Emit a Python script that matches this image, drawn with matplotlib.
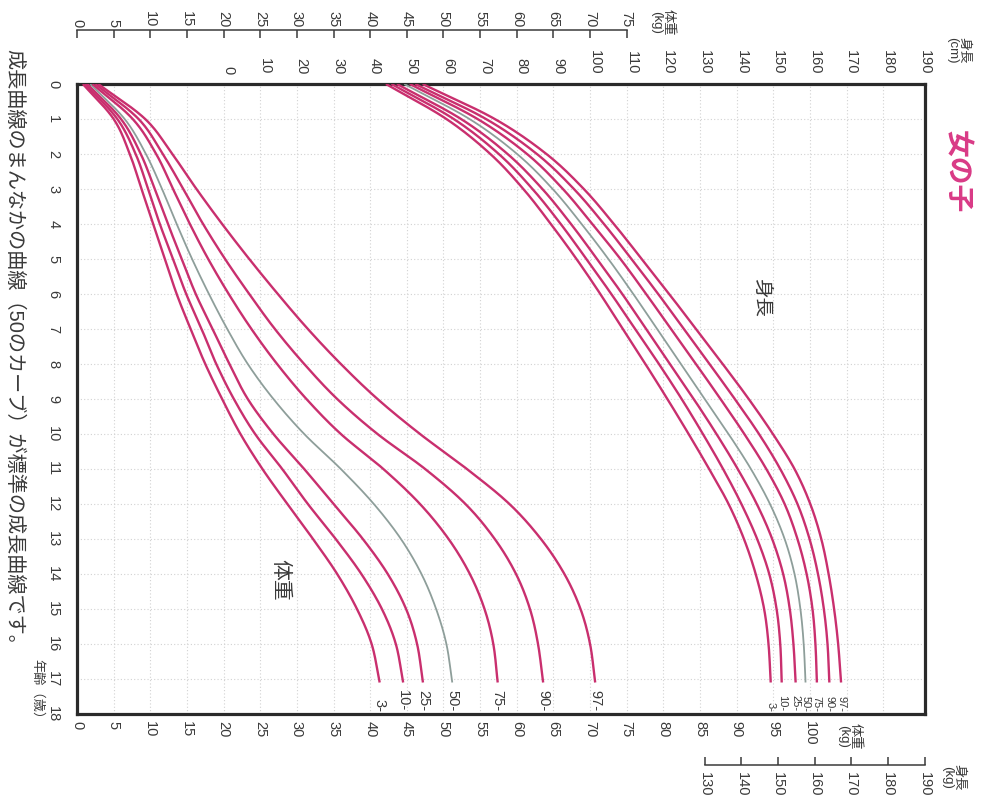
import numpy as np
import matplotlib
matplotlib.use("Agg")
import matplotlib.pyplot as plt

plt.rcParams['font.family'] = ['Liberation Sans', 'Noto Sans CJK JP']

# ages (years) at which the curves were read
ages = [0, 1, 2, 3, 4, 5, 6, 7, 8, 9, 10, 11, 12, 13, 14, 15, 16, 17.1]
pct = ["3", "10", "25", "50", "75", "90", "97"]

# height (cm), one list per percentile
h3 = [43.0, 59.5, 71.5, 80.5, 88.0, 95.0, 101.5, 107.6, 113.8, 119.8, 125.6, 131.2, 136.5, 140.7, 143.9, 146.2, 147.4, 148.0]
h10 = [44.5, 61.5, 73.8, 83.0, 90.7, 97.7, 104.5, 111.0, 117.5, 123.7, 129.5, 135.0, 140.0, 144.3, 147.6, 149.6, 150.6, 151.0]
h25 = [46.0, 63.5, 76.2, 85.7, 93.5, 100.6, 107.5, 114.0, 120.5, 127.0, 133.2, 139.0, 144.2, 148.4, 151.4, 153.2, 154.2, 154.8]
h50 = [48.0, 65.8, 78.8, 88.5, 96.4, 103.7, 110.5, 117.0, 123.5, 130.0, 136.5, 142.6, 147.8, 151.8, 154.5, 156.1, 157.0, 157.5]
h75 = [49.5, 68.0, 81.5, 91.3, 99.3, 107.0, 114.0, 120.8, 127.6, 134.3, 140.8, 146.8, 151.8, 155.3, 157.8, 159.4, 160.2, 160.6]
h90 = [51.0, 70.3, 84.2, 94.3, 102.5, 110.0, 117.3, 124.3, 131.3, 138.2, 144.8, 150.6, 155.3, 158.6, 160.9, 162.5, 163.5, 164.0]
h97 = [53.0, 72.7, 86.8, 97.0, 105.2, 112.8, 120.3, 127.6, 134.9, 142.0, 148.6, 154.5, 158.8, 161.8, 163.8, 165.3, 166.4, 167.2]

# weight (kg)
w3 = [0.8, 5.0, 7.2, 8.8, 10.4, 12.0, 13.6, 15.5, 17.5, 19.8, 22.3, 25.3, 28.7, 32.2, 35.5, 38.2, 40.2, 41.3]
w10 = [1.1, 5.5, 8.0, 9.7, 11.3, 13.1, 14.9, 17.0, 19.0, 21.4, 24.3, 28.0, 31.5, 35.3, 38.8, 41.6, 43.5, 44.5]
w25 = [1.4, 6.0, 8.7, 10.6, 12.4, 14.3, 16.2, 18.5, 20.8, 23.3, 26.8, 31.0, 35.0, 39.0, 42.4, 44.9, 46.4, 47.2]
w50 = [1.8, 6.5, 9.4, 11.6, 13.6, 15.7, 18.0, 20.5, 23.3, 26.8, 31.0, 36.0, 40.5, 44.2, 47.0, 49.0, 50.4, 51.2]
w75 = [2.1, 7.6, 10.8, 13.1, 15.4, 17.9, 20.7, 23.8, 27.3, 31.3, 36.0, 41.8, 46.8, 50.7, 53.6, 55.6, 56.8, 57.4]
w90 = [2.5, 8.4, 11.7, 14.5, 17.2, 20.2, 23.5, 27.0, 31.0, 35.5, 41.0, 47.5, 53.0, 57.0, 59.9, 61.8, 62.9, 63.6]
w97 = [2.9, 9.3, 13.0, 16.3, 19.8, 23.5, 27.4, 31.5, 36.0, 41.0, 46.8, 53.2, 59.0, 63.3, 66.5, 68.7, 70.0, 70.7]

heights = [h3, h10, h25, h50, h75, h90, h97]
weights = [w3, w10, w25, w50, w75, w90, w97]

weight_ticks_top = list(range(0, 80, 5))
weight_ticks_bottom = list(range(0, 105, 5))
height_ticks_top = list(range(0, 200, 10))
height_ticks_bottom = list(range(130, 200, 10))
age_ticks = list(range(0, 19))

PINK = '#c92f6e'
GREY = '#8e9e9a'
FRAME = '#2a2a2a'
TXT = '#3a3a3a'

W, H = 982, 809
PT = 72 / 100  # points per pixel at dpi 100


def fx(px):
    return px / W


def fy(py):
    return 1 - py / H


def smooth(xs, ys, n=24):
    xs = np.asarray(xs, float)
    ys = np.asarray(ys, float)
    out_x, out_y = [], []
    last = len(xs) - 1
    for i in range(last):
        i0, i3 = max(i - 1, 0), min(i + 2, last)
        t = np.linspace(0, 1, n, endpoint=False)
        for arr, out in ((xs, out_x), (ys, out_y)):
            p0, p1, p2, p3 = arr[i0], arr[i], arr[i + 1], arr[i3]
            if i == 0:
                p0 = 2 * p1 - p2
            if i + 1 == last:
                p3 = 2 * p2 - p1
            out.extend(0.5 * (2 * p1 + (-p0 + p2) * t + (2 * p0 - 5 * p1 + 4 * p2 - p3) * t ** 2
                              + (-p0 + 3 * p1 - 3 * p2 + p3) * t ** 3))
    out_x.append(xs[-1])
    out_y.append(ys[-1])
    return np.array(out_x), np.array(out_y)


fig = plt.figure(figsize=(9.82, 8.09), dpi=100)
fig.patch.set_facecolor('white')

# main frame: x = weight (kg), y = age, picture turned a quarter clockwise
ax = fig.add_axes([fx(77), fy(714), fx(925) - fx(77), fy(84) - fy(714)])
wmax = 115.7
hmin = -41.3
ax.set_xlim(0, wmax)
ax.set_ylim(18, 0)
for s in ax.spines.values():
    s.set_linewidth(2.3)
    s.set_color(FRAME)
    s.set_zorder(5)
ax.set_xticks(weight_ticks_bottom)
ax.set_xticklabels([str(v) for v in weight_ticks_bottom])
ax.set_xticks([105, 110], minor=True)
ax.set_yticks(age_ticks)
ax.set_yticklabels([str(v) for v in age_ticks])
ax.grid(which='both', color='#d2d2d2', linestyle=(0, (1, 2)), linewidth=0.8)
ax.tick_params(axis='x', which='both', length=0, pad=5, labelsize=10.5, labelcolor=TXT, labelrotation=-90)
ax.tick_params(axis='y', which='both', length=0, pad=12, labelsize=10.5, labelcolor=TXT, labelrotation=-90)
for lab in ax.get_yticklabels():
    lab.set_verticalalignment('center')

# height scale sharing the frame
axh = ax.twiny()
axh.set_xlim(hmin, hmin + 2 * wmax)
axh.set_ylim(18, 0)
for s in axh.spines.values():
    s.set_visible(False)
axh.set_xticks(height_ticks_top)
axh.set_xticklabels([str(v) for v in height_ticks_top])
axh.tick_params(axis='x', length=0, pad=7, labelsize=10.5, labelcolor=TXT, labelrotation=-90)

# top weight scale (with its own line)
axw = ax.twiny()
axw.set_xlim(0, wmax)
for k, s in axw.spines.items():
    s.set_visible(k == 'top')
axw.spines['top'].set_position(('outward', 54 * PT))
axw.spines['top'].set_bounds(0, 75)
axw.spines['top'].set_color(TXT)
axw.spines['top'].set_linewidth(1.1)
axw.set_xticks(weight_ticks_top)
axw.set_xticklabels([str(v) for v in weight_ticks_top])
axw.tick_params(axis='x', direction='in', length=8 * PT, width=1.1, color=TXT, pad=2,
                labelsize=10.5, labelcolor=TXT, labelrotation=-90)

# bottom height scale (short line at the lower right)
axb = ax.twiny()
axb.set_xlim(hmin, hmin + 2 * wmax)
axb.xaxis.set_ticks_position('bottom')
axb.xaxis.set_label_position('bottom')
for k, s in axb.spines.items():
    s.set_visible(k == 'bottom')
axb.spines['bottom'].set_position(('outward', 51 * PT))
axb.spines['bottom'].set_bounds(130, 190)
axb.spines['bottom'].set_color(TXT)
axb.spines['bottom'].set_linewidth(1.1)
axb.set_xticks(height_ticks_bottom)
axb.set_xticklabels([str(v) for v in height_ticks_bottom])
axb.tick_params(axis='x', direction='in', length=8 * PT, width=1.1, color=TXT, pad=5,
                labelsize=10.5, labelcolor=TXT, labelrotation=-90)

# curves
for name, hv, wv in zip(pct, heights, weights):
    col = GREY if name == "50" else PINK
    lw = 1.3 if name == "50" else 1.7
    sx, sy = smooth(hv, ages)
    axh.plot(sx, sy, color=col, lw=lw, solid_capstyle='butt', zorder=3)
    sx, sy = smooth(wv, ages)
    axh.plot(hmin + 2 * sx, sy, color=col, lw=lw, solid_capstyle='butt', zorder=3)
    axh.text(hv[-1], 17.93, name + "-", rotation=-90, ha='center', va='bottom',
             fontsize=8, color=TXT, zorder=4)
    axh.text(hmin + 2 * wv[-1], 17.93, name + "-", rotation=-90, ha='center', va='bottom',
             fontsize=10.5, color=TXT, zorder=4)

# texts
fig.text(fx(761), fy(297), "身長", rotation=-90, ha='center', va='center', fontsize=14, color=TXT)
fig.text(fx(280), fy(580), "体重", rotation=-90, ha='center', va='center', fontsize=15, color=TXT)
fig.text(fx(955), fy(172), "女の子", rotation=-90, ha='center', va='center', fontsize=20,
         fontweight='bold', color='#d93a86')
fig.text(fx(958), fy(50), "身長\n(cm)", rotation=-90, ha='center', va='center', fontsize=9.5,
         color=TXT, linespacing=1.0)
fig.text(fx(662), fy(22), "体重\n(kg)", rotation=-90, ha='center', va='center', fontsize=9.5,
         color=TXT, linespacing=1.0)
fig.text(fx(849), fy(736), "体重\n(kg)", rotation=-90, ha='center', va='center', fontsize=9.5,
         color=TXT, linespacing=1.0)
fig.text(fx(953), fy(777), "身長\n(kg)", rotation=-90, ha='center', va='center', fontsize=9.5,
         color=TXT, linespacing=1.0)
fig.text(fx(37), fy(692), "年齢（歳）", rotation=-90, ha='center', va='center', fontsize=9.5, color=TXT)
fig.text(fx(14), fy(352), "成長曲線のまんなかの曲線（50のカーブ）が標準の成長曲線です。",
         rotation=-90, ha='center', va='center', fontsize=14.5, color=TXT)

fig.savefig("out.png", dpi=100, facecolor='white')
